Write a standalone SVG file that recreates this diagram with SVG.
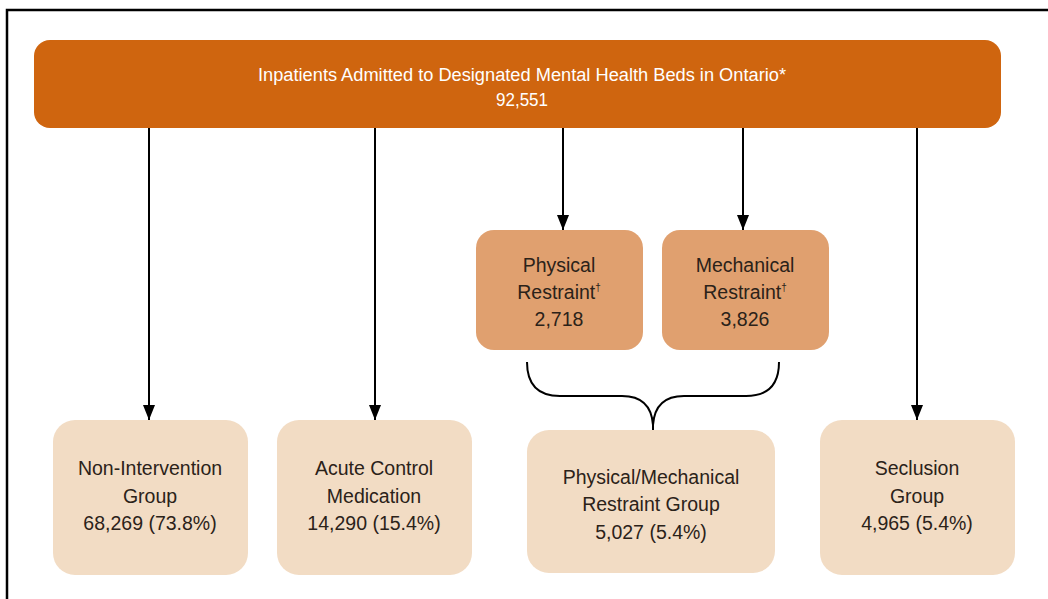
<svg xmlns="http://www.w3.org/2000/svg" width="1048" height="599" viewBox="0 0 1048 599">
<style>
.t{font-family:"Liberation Sans",Arial,sans-serif;font-size:19.5px;fill:#2b2219;text-anchor:middle}
.w{font-family:"Liberation Sans",Arial,sans-serif;font-size:18px;fill:#ffffff;text-anchor:middle}
.lt{fill:#f2dcc4}
.md{fill:#e0a06f}
.ln{stroke:#000;stroke-width:2;fill:none}
</style>
<defs>
<marker id="ah" markerWidth="15" markerHeight="12" refX="15" refY="6" orient="auto" markerUnits="userSpaceOnUse" viewBox="0 0 15 12">
<path d="M0,0 L15,6 L0,12 Z" fill="#000"/>
</marker>
</defs>
<rect width="1048" height="599" fill="#fff"/>
<path d="M7,599 L7,10 L1048,10" stroke="#000" stroke-width="2.5" fill="none"/>
<g id="top">
<rect x="34" y="40" width="967" height="88" rx="16" fill="#cf650f"/>
<text class="w" x="522" y="81" textLength="528" lengthAdjust="spacingAndGlyphs">Inpatients Admitted to Designated Mental Health Beds in Ontario*</text>
<text class="w" x="522" y="106" textLength="52" lengthAdjust="spacingAndGlyphs">92,551</text>
</g>
<g id="connectors">
<path class="ln" d="M149,128 V420" marker-end="url(#ah)"/>
<path class="ln" d="M375,128 V420" marker-end="url(#ah)"/>
<path class="ln" d="M563,128 V230" marker-end="url(#ah)"/>
<path class="ln" d="M743,128 V230" marker-end="url(#ah)"/>
<path class="ln" d="M917,128 V420" marker-end="url(#ah)"/>
<path class="ln" d="M527,362 Q527,396 560,396 L622,396 Q651,396 653,425 L653,432 M779,362 Q779,396 746,396 L684,396 Q655,396 653,425"/>
</g>
<g id="physical">
<rect class="md" x="476" y="230" width="167" height="120" rx="18"/>
<text class="t" x="559" y="272">Physical</text>
<text class="t" x="559" y="299">Restraint<tspan font-size="10" dy="-8">†</tspan></text>
<text class="t" x="559" y="326">2,718</text>
</g>
<g id="mechanical">
<rect class="md" x="662" y="230" width="167" height="120" rx="18"/>
<text class="t" x="745" y="272">Mechanical</text>
<text class="t" x="745" y="299">Restraint<tspan font-size="10" dy="-8">†</tspan></text>
<text class="t" x="745" y="326">3,826</text>
</g>
<g id="nonintervention">
<rect class="lt" x="53" y="420" width="195" height="155" rx="22"/>
<text class="t" x="150" y="475">Non-Intervention</text>
<text class="t" x="150" y="503">Group</text>
<text class="t" x="150" y="530">68,269 (73.8%)</text>
</g>
<g id="acute">
<rect class="lt" x="277" y="420" width="195" height="155" rx="22"/>
<text class="t" x="374" y="475">Acute Control</text>
<text class="t" x="374" y="503">Medication</text>
<text class="t" x="374" y="530">14,290 (15.4%)</text>
</g>
<g id="pmr">
<rect class="lt" x="527" y="430" width="248" height="143" rx="22"/>
<text class="t" x="651" y="484">Physical/Mechanical</text>
<text class="t" x="651" y="511">Restraint Group</text>
<text class="t" x="651" y="539">5,027 (5.4%)</text>
</g>
<g id="seclusion">
<rect class="lt" x="820" y="420" width="195" height="155" rx="22"/>
<text class="t" x="917" y="475">Seclusion</text>
<text class="t" x="917" y="503">Group</text>
<text class="t" x="917" y="530">4,965 (5.4%)</text>
</g>
</svg>
